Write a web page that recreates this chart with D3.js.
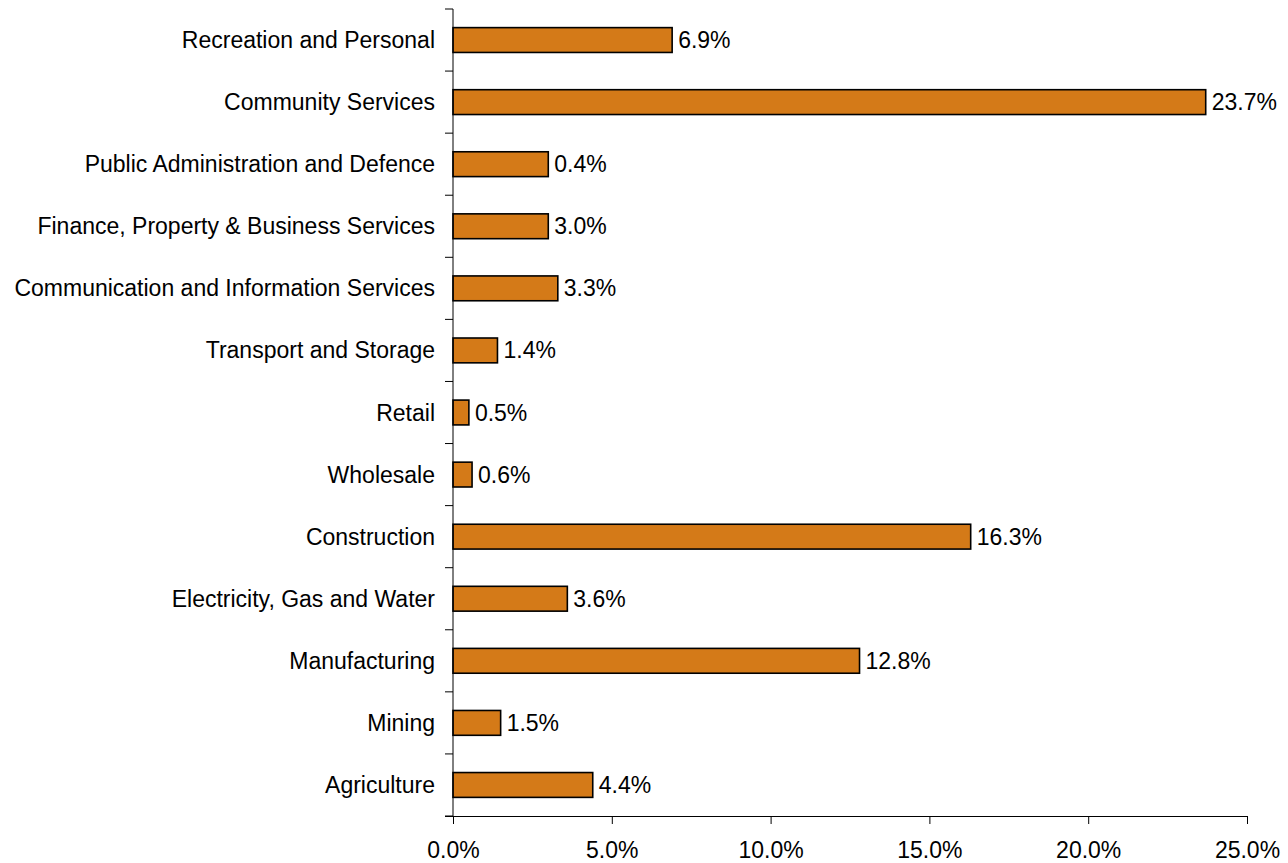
<!DOCTYPE html>
<html>
<head>
<meta charset="utf-8">
<script src="https://cdn.jsdelivr.net/npm/d3@7"></script>
<style>
  body { margin: 0; background: #fff; }
  text { font-family: "Liberation Sans", Arial, sans-serif; fill: #000; }
</style>
</head>
<body>
<script>
// categories from top to bottom
var categories = ["Recreation and Personal", "Community Services", "Public Administration and Defence",
    "Finance, Property & Business Services", "Communication and Information Services",
    "Transport and Storage", "Retail", "Wholesale", "Construction", "Electricity, Gas and Water",
    "Manufacturing", "Mining", "Agriculture"];
// bar lengths as drawn (%)
var values = [6.9, 23.7, 3.0, 3.0, 3.3, 1.4, 0.5, 0.6, 16.3, 3.6, 12.8, 1.5, 4.4];
// value labels as printed
var valueLabels = ["6.9%", "23.7%", "0.4%", "3.0%", "3.3%", "1.4%", "0.5%", "0.6%", "16.3%", "3.6%", "12.8%", "1.5%", "4.4%"];
var xTicks = [0, 5, 10, 15, 20, 25];

var width = 1288, height = 863;
var fontSize = '23px';
var svg = d3.select('body').append('svg').attr('width', width).attr('height', height);

var x = d3.scaleLinear().domain([0, 25]).range([453, 1247]);
var y = d3.scaleBand().domain(categories).range([9, 816]).paddingInner(0.6).paddingOuter(0.3);
var step = y.step();

// bars
svg.selectAll('.bar').data(categories).enter().append('rect')
    .attr('class', 'bar')
    .attr('x', x(0))
    .attr('y', function (d) { return y(d); })
    .attr('width', function (d, i) { return x(values[i]) - x(0); })
    .attr('height', y.bandwidth())
    .attr('fill', '#d47a18')
    .attr('stroke', '#000')
    .attr('stroke-width', 1.6);

// value labels
svg.selectAll('.vlab').data(categories).enter().append('text')
    .attr('class', 'vlab')
    .attr('x', function (d, i) { return x(values[i]) + 6; })
    .attr('y', function (d) { return y(d) + y.bandwidth() / 2; })
    .attr('dy', '0.35em')
    .style('font-size', fontSize)
    .text(function (d, i) { return valueLabels[i]; });

// y axis
var axisColor = '#000';
svg.append('line')
    .attr('x1', x(0)).attr('x2', x(0))
    .attr('y1', 9).attr('y2', 816)
    .attr('stroke', axisColor).attr('stroke-width', 1);

var boundaries = [y.range()[0]].concat(categories.map(function (d) { return y(d) + y.bandwidth() / 2 + step / 2; }));
svg.selectAll('.ytick').data(boundaries).enter().append('line')
    .attr('x1', x(0) - 8).attr('x2', x(0))
    .attr('y1', function (d) { return d; }).attr('y2', function (d) { return d; })
    .attr('stroke', axisColor).attr('stroke-width', 1);

svg.selectAll('.ylab').data(categories).enter().append('text')
    .attr('x', x(0) - 18)
    .attr('y', function (d) { return y(d) + y.bandwidth() / 2; })
    .attr('dy', '0.35em')
    .attr('text-anchor', 'end')
    .style('font-size', fontSize)
    .text(function (d) { return d; });

// x axis
svg.append('g')
    .attr('transform', 'translate(0,816)')
    .call(d3.axisBottom(x).tickValues(xTicks).tickSize(8).tickPadding(18)
        .tickFormat(function (d) { return d.toFixed(1) + '%'; }))
    .call(function (g) {
        g.select('.domain').attr('d', 'M' + (x(0) - 8) + ',0.5H' + x(25));
        g.selectAll('text').style('font-size', fontSize).attr('fill', '#000');
        g.selectAll('line').attr('stroke', axisColor);
    });
</script>
</body>
</html>
